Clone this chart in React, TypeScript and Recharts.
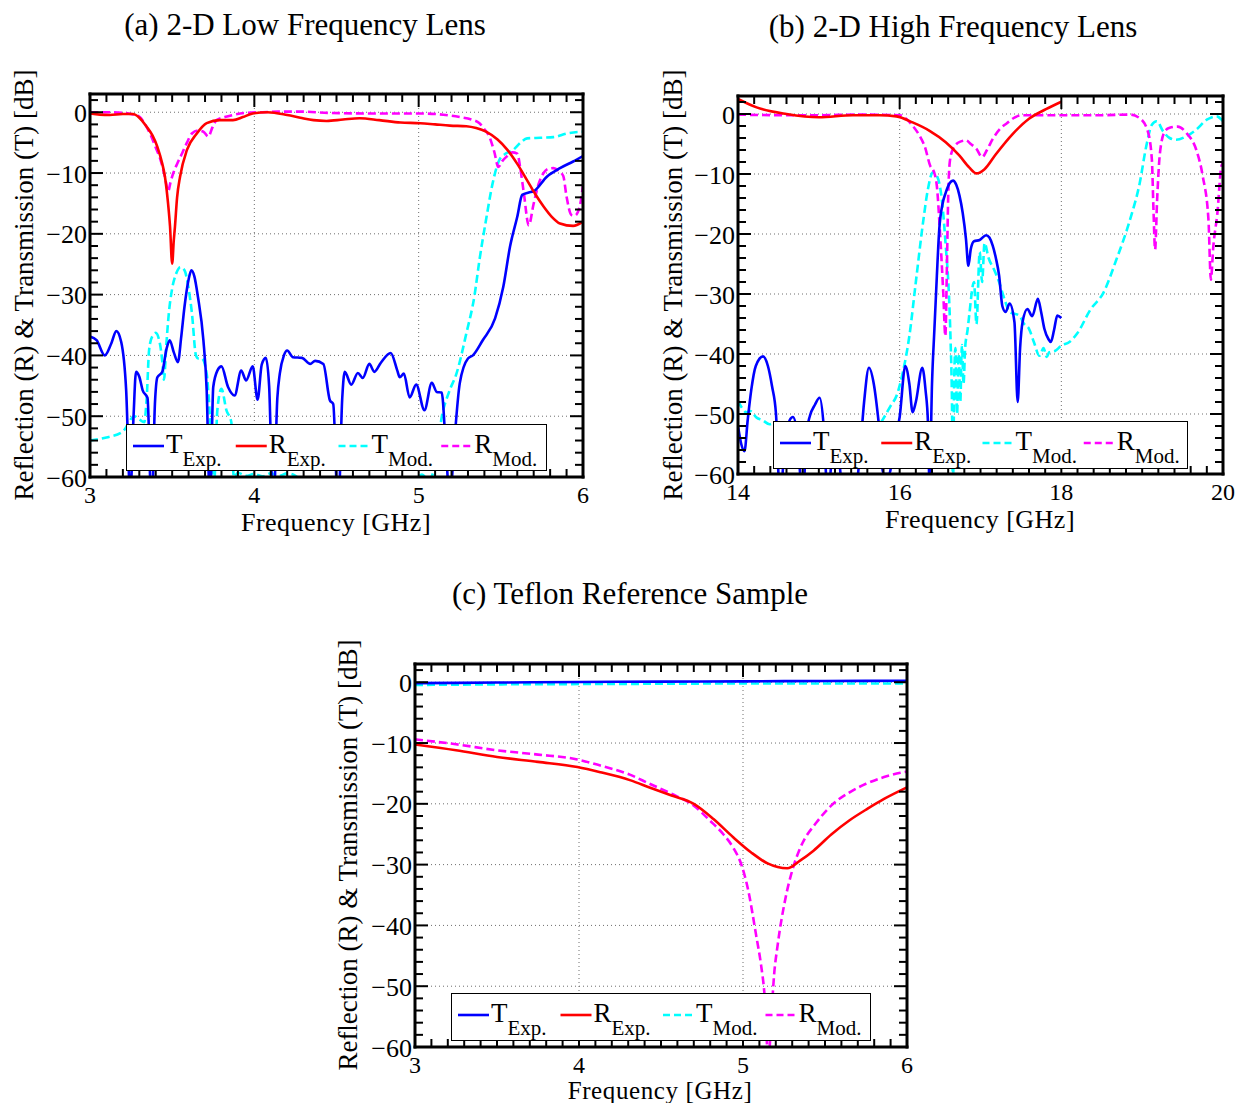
import React from 'react';
import { LineChart, Line, XAxis, YAxis, ReferenceLine } from 'recharts';

const SERIF = '"Liberation Serif", "Times New Roman", serif';

// ---------- Panel (a): 2-D low frequency lens (3–6 GHz) ----------
const aTexpF = [3.0, 3.04, 3.09, 3.13, 3.16, 3.19, 3.22, 3.245, 3.265, 3.28, 3.3, 3.32, 3.35, 3.375, 3.395, 3.41, 3.44, 3.465, 3.485, 3.51, 3.535, 3.555, 3.575, 3.6, 3.617, 3.635, 3.657, 3.69, 3.71, 3.73, 3.75, 3.775, 3.8, 3.84, 3.88, 3.92, 3.95, 3.99, 4.02, 4.045, 4.07, 4.09, 4.115, 4.14, 4.155, 4.18, 4.2, 4.235, 4.29, 4.34, 4.37, 4.42, 4.46, 4.48, 4.51, 4.535, 4.55, 4.59, 4.63, 4.66, 4.7, 4.73, 4.77, 4.83, 4.87, 4.885, 4.91, 4.945, 4.985, 5.035, 5.08, 5.11, 5.14, 5.165, 5.19, 5.215, 5.25, 5.3, 5.33, 5.39, 5.465, 5.515, 5.556, 5.6, 5.63, 5.67, 5.7, 5.78, 5.86, 5.94, 6.0];
const aTexpV = [-36.9, -37.5, -40, -38, -36, -37.8, -45.7, -63, -50, -42.7, -43.5, -45.7, -47, -66, -48, -43.6, -42.7, -39, -37.5, -39.5, -41.1, -37, -32, -27.5, -26, -27, -30.4, -37.5, -45.7, -65, -45.2, -42.5, -41.8, -45.2, -46.6, -42.5, -44.1, -41.8, -47.3, -41.5, -40.4, -45, -66, -47, -43, -40, -39.2, -40.3, -40.4, -41.4, -40.9, -41.4, -47.4, -48, -66, -47, -42.7, -44.8, -42.9, -43.7, -41.4, -42.7, -41.2, -39.6, -42.5, -43.6, -43, -46.9, -44.8, -49, -44.5, -46, -46.1, -55, -64, -55, -44.6, -40.5, -40, -37.5, -33.9, -28.7, -22.1, -17.2, -13.6, -13.2, -13, -10.6, -9.2, -8.1, -7.2];

const aRexpF = [3.0, 3.06, 3.12, 3.2, 3.26, 3.3, 3.345, 3.38, 3.41, 3.44, 3.456, 3.475, 3.487, 3.5, 3.51, 3.517, 3.53, 3.548, 3.59, 3.65, 3.71, 3.79, 3.87, 3.93, 3.99, 4.08, 4.2, 4.28, 4.36, 4.44, 4.54, 4.64, 4.76, 4.89, 5.01, 5.1, 5.19, 5.29, 5.35, 5.41, 5.48, 5.54, 5.6, 5.66, 5.71, 5.76, 5.81, 5.86, 5.94, 6.0];
const aRexpV = [-0.2, -0.4, -0.45, -0.3, -0.3, -0.9, -2.4, -3.8, -5.7, -8.5, -10.6, -15, -18.8, -24.9, -21, -18.8, -14, -10.6, -6.2, -3.5, -1.8, -1.3, -1.3, -0.8, -0.2, 0, -0.45, -0.9, -1.3, -1.43, -1.2, -1.0, -1.3, -1.7, -1.8, -2.0, -2.2, -2.3, -2.6, -3.2, -4.5, -6.2, -8.5, -11.2, -13.5, -15.5, -17.2, -18.3, -18.7, -18.0];

const aTmodF = [3.0, 3.1, 3.2, 3.27, 3.3, 3.33, 3.345, 3.36, 3.38, 3.4, 3.425, 3.44, 3.45, 3.465, 3.48, 3.5, 3.525, 3.55, 3.575, 3.6, 3.62, 3.645, 3.66, 3.68, 3.71, 3.73, 3.755, 3.775, 3.8, 3.83, 3.86, 3.875, 3.9, 3.95, 4.0, 4.05, 4.1, 4.15, 4.2, 4.25, 4.3, 4.4, 4.6, 4.8, 4.95, 5.02, 5.06, 5.1, 5.14, 5.185, 5.23, 5.29, 5.34, 5.37, 5.41, 5.45, 5.49, 5.53, 5.575, 5.62, 5.66, 5.74, 5.82, 5.9, 6.0];
const aTmodV = [-54, -53.5, -52.5, -50, -50.5, -51, -47, -39, -36.8, -36.3, -38, -41, -44, -38, -33, -29, -26.5, -25.5, -26, -29, -33, -40, -40.5, -40.5, -43, -50, -61, -49, -45.5, -49, -51, -60, -59.3, -59.8, -59.5, -59.9, -59.4, -59.8, -59.4, -59.8, -61, -64, -66, -65, -62, -59.6, -60.5, -58, -50.2, -46, -43, -36.4, -30.1, -24.3, -17.7, -11.7, -7.9, -6.8, -6.2, -5, -4.3, -4.2, -4.1, -3.5, -3.2];

const aRmodF = [3.0, 3.1, 3.2, 3.25, 3.3, 3.335, 3.365, 3.4, 3.43, 3.455, 3.476, 3.49, 3.507, 3.53, 3.56, 3.59, 3.62, 3.655, 3.69, 3.72, 3.745, 3.77, 3.82, 3.87, 3.95, 4.05, 4.15, 4.28, 4.45, 4.68, 4.85, 5.01, 5.15, 5.25, 5.32, 5.37, 5.4, 5.43, 5.46, 5.485, 5.51, 5.535, 5.57, 5.6, 5.62, 5.64, 5.67, 5.7, 5.73, 5.76, 5.79, 5.82, 5.85, 5.88, 5.9, 5.93, 5.95, 5.98, 6.0];
const aRmodV = [0, 0, -0.1, -0.3, -0.7, -2, -3.5, -5.8, -7.9, -10.5, -13, -11.5, -10, -8.5, -6.8, -5, -3.5, -3, -3.2, -4.0, -2.5, -1.3, -0.8, -0.45, -0.1, 0, 0.1, 0.1, -0.1, -0.2, -0.2, -0.2, -0.4, -0.8, -1.2, -1.8, -2.8, -4.0, -6.5, -9.0, -8.0, -7.3, -6.6, -6.8, -9.5, -13.3, -18.6, -15, -11.8, -10, -9.3, -9.2, -9.6, -10.5, -13.9, -16.9, -17, -15.5, -12];

// ---------- Panel (b): 2-D high frequency lens (14–20 GHz) ----------
const bTexpF = [14.0, 14.04, 14.08, 14.12, 14.165, 14.22, 14.31, 14.37, 14.42, 14.47, 14.52, 14.58, 14.64, 14.68, 14.73, 14.8, 14.85, 14.89, 14.95, 15.01, 15.06, 15.11, 15.17, 15.22, 15.3, 15.4, 15.5, 15.56, 15.62, 15.68, 15.74, 15.8, 15.87, 15.93, 16.0, 16.07, 16.12, 16.16, 16.2, 16.28, 16.32, 16.35, 16.37, 16.4, 16.43, 16.46, 16.49, 16.53, 16.57, 16.62, 16.66, 16.7, 16.74, 16.78, 16.82, 16.85, 16.88, 16.92, 16.99, 17.07, 17.11, 17.15, 17.19, 17.23, 17.27, 17.31, 17.36, 17.42, 17.46, 17.49, 17.52, 17.58, 17.64, 17.71, 17.75, 17.79, 17.84, 17.87, 17.91, 17.95, 18.0];
const bTexpV = [-52, -55, -56.2, -51, -45.9, -42, -40.4, -42, -45.3, -50, -64, -55, -51, -50.5, -53, -64, -53, -50.3, -48.5, -47.3, -52, -64, -56, -54, -64, -66, -58, -48, -42.3, -45, -51.4, -60, -60, -55, -50.5, -42, -45, -49.7, -48, -42.3, -46, -51.4, -62, -45, -35.8, -27, -19.2, -15, -13.1, -11.5, -11.1, -11.8, -13.6, -16.5, -20.8, -25.3, -22.5, -21.2, -21, -20.2, -20.6, -21.9, -24, -26.9, -32, -33, -31.6, -34.7, -48, -39, -34.7, -32.5, -33.7, -30.8, -33, -35.8, -37.5, -38, -36, -33.6, -34];

const bRexpF = [14.0, 14.23, 14.6, 15.0, 15.42, 15.75, 15.96, 16.16, 16.37, 16.57, 16.74, 16.86, 16.95, 17.05, 17.19, 17.4, 17.6, 17.81, 18.0];
const bRexpV = [2.5, 1.1, 0, -0.55, -0.2, -0.2, -0.4, -1.4, -2.8, -4.7, -6.95, -8.9, -9.9, -9.2, -6.7, -3.3, -0.8, 0.8, 2.05];

const bTmodF = [14.0, 14.05, 14.1, 14.15, 14.23, 14.3, 14.39, 14.45, 14.6, 14.8, 15.0, 15.2, 15.4, 15.6, 15.72, 15.81, 15.89, 15.96, 16.04, 16.12, 16.2, 16.29, 16.35, 16.41, 16.46, 16.53, 16.57, 16.61, 16.63, 16.645, 16.66, 16.675, 16.69, 16.71, 16.73, 16.75, 16.77, 16.79, 16.81, 16.84, 16.86, 16.92, 16.95, 16.99, 17.02, 17.05, 17.1, 17.17, 17.23, 17.3, 17.36, 17.48, 17.54, 17.6, 17.66, 17.73, 17.78, 17.82, 17.85, 17.92, 18.0, 18.1, 18.2, 18.36, 18.52, 18.68, 18.85, 18.97, 19.05, 19.12, 19.18, 19.26, 19.34, 19.42, 19.55, 19.67, 19.8, 19.92, 20.0];
const bTmodV = [-47.8, -49, -49.7, -49.5, -50.6, -51, -51.7, -51.5, -53, -54, -56, -57, -57, -55, -52.5, -50.5, -48.6, -47, -43, -37, -28, -18, -12.5, -9.7, -10.3, -15.3, -22, -30.3, -37.8, -46, -62, -44, -39, -50, -40, -48, -38.5, -45, -39, -36, -33.6, -28, -35, -23, -28, -21.5, -24, -26, -28, -31, -33, -33.6, -35, -35.8, -38, -40.3, -39, -40.5, -39.7, -39.5, -38.6, -38, -36.5, -32.6, -29.8, -24.3, -17.6, -11.5, -5.4, -1.8, -1.2, -2.9, -4, -4.3, -3.7, -2.6, -0.95, -0.4, -1.2];

const bRmodF = [14.0, 14.5, 15.0, 15.5, 16.0, 16.08, 16.16, 16.25, 16.31, 16.38, 16.42, 16.46, 16.5, 16.54, 16.565, 16.585, 16.6, 16.62, 16.66, 16.75, 16.82, 16.88, 16.95, 17.02, 17.08, 17.15, 17.24, 17.33, 17.42, 17.52, 18.0, 18.5, 18.85, 18.97, 19.07, 19.12, 19.14, 19.16, 19.185, 19.22, 19.28, 19.34, 19.44, 19.55, 19.67, 19.75, 19.82, 19.85, 19.88, 19.93, 19.98, 20.0];
const bRmodV = [-0.1, -0.2, -0.2, -0.1, -0.2, -0.8, -1.95, -3.7, -5.4, -8.7, -9.5, -12, -20, -30, -37, -25, -14, -8, -5.8, -4.6, -4.4, -5, -5.8, -7.2, -6, -4.2, -2.5, -1.5, -0.6, -0.2, -0.2, -0.2, -0.1, -0.7, -2.9, -7.6, -16, -22.6, -14.3, -6.5, -2.9, -2.3, -2.1, -3.2, -6, -10.4, -17.6, -27.6, -22.1, -16.6, -8.7, -8.2];

// ---------- Panel (c): Teflon reference sample (3–6 GHz) ----------
const cTexpF = [3.0, 3.5, 4.0, 4.5, 5.0, 5.5, 6.0];
const cTexpV = [-0.15, -0.05, 0.05, 0.1, 0.15, 0.2, 0.25];

const cRexpF = [3.0, 3.25, 3.5, 3.75, 3.99, 4.13, 4.31, 4.43, 4.56, 4.7, 4.82, 4.94, 5.05, 5.15, 5.27, 5.35, 5.43, 5.54, 5.65, 5.76, 5.86, 6.0];
const cRexpV = [-10.25, -11.2, -12.3, -13.1, -13.95, -14.8, -16.1, -17.3, -18.6, -20, -22.5, -25.5, -28, -29.8, -30.6, -29.3, -27.7, -25, -22.7, -20.8, -19.2, -17.3];

const cTmodF = [3.0, 3.5, 4.0, 4.5, 5.0, 5.5, 6.0];
const cTmodV = [-0.45, -0.35, -0.3, -0.25, -0.2, -0.2, -0.2];

const cRmodF = [3.0, 3.25, 3.5, 3.75, 3.99, 4.13, 4.31, 4.43, 4.56, 4.7, 4.8, 4.88, 4.94, 4.99, 5.03, 5.08, 5.11, 5.13, 5.155, 5.175, 5.19, 5.21, 5.26, 5.3, 5.35, 5.45, 5.55, 5.65, 5.75, 5.86, 5.96, 6.0];
const cRmodV = [-9.4, -10.2, -11.2, -11.9, -12.7, -13.7, -15.2, -16.7, -18.3, -20.3, -22.8, -25, -27.2, -30, -34, -41.6, -46.5, -51, -62, -54, -48, -43.5, -35.4, -31, -27.2, -23, -20, -18.1, -16.7, -15.6, -14.9, -14.7];

// ---------- Axis ticks ----------
const lowXMajor = [3, 4, 5, 6];
const highXMajor = [14, 16, 18, 20];
const yMajor = [0, -10, -20, -30, -40, -50, -60];
const Y_DOMAIN: [number, number] = [-60, 3];

const seq = (a: number, b: number, s: number) => {
  const n = Math.round((b - a) / s);
  return Array.from({ length: n + 1 }, (_, i) => +(a + i * s).toFixed(4));
};
const lowXTicks = seq(3, 6, 0.1);
const highXTicks = seq(14, 20, 0.2);
const yTicks = seq(-60, 2, 2);

const pts = (f: number[], v: number[]) => f.map((x, i) => ({ f: x, v: v[i] }));

const COLORS = { T: '#0000ff', R: '#ff0000', Tm: '#00ffff', Rm: '#ff00ff' };

type Series = { key: string; data: { f: number; v: number }[]; color: string; dashed: boolean };

const mkSeries = (te: any[], re: any[], tm: any[], rm: any[]): Series[] => [
  { key: 'Tm', data: tm, color: COLORS.Tm, dashed: true },
  { key: 'Rm', data: rm, color: COLORS.Rm, dashed: true },
  { key: 'Te', data: te, color: COLORS.T, dashed: false },
  { key: 'Re', data: re, color: COLORS.R, dashed: false },
];

const isMajor = (v: number, majors: number[]) => majors.some((m) => Math.abs(m - v) < 1e-6);
const fmtY = (v: number) => (v < 0 ? '\u2212' + Math.abs(v) : String(v));

type PanelProps = {
  left: number;
  top: number;
  width: number;
  height: number;
  margin: { top: number; right: number; bottom: number; left: number };
  xDomain: [number, number];
  xTicks: number[];
  xMajor: number[];
  series: Series[];
};

const FRAME = { stroke: '#000', strokeWidth: 3, strokeLinecap: 'square' as const };
const TICK_FONT = 25;

function Panel({ left, top, width, height, margin, xDomain, xTicks, xMajor, series }: PanelProps) {
  const bottomTick = (t: any) => {
    const maj = isMajor(t.payload.value, xMajor);
    return (
      <g>
        <line x1={t.x} x2={t.x} y1={t.y} y2={t.y - (maj ? 13 : 8)} stroke="#000" strokeWidth={2} />
        {maj && (
          <text x={t.x} y={t.y + 18} textAnchor="middle" dominantBaseline="central" fontSize={TICK_FONT - 1} fontFamily={SERIF} fill="#000">
            {t.payload.value}
          </text>
        )}
      </g>
    );
  };
  const topTick = (t: any) => {
    const maj = isMajor(t.payload.value, xMajor);
    return <line x1={t.x} x2={t.x} y1={t.y} y2={t.y + (maj ? 13 : 8)} stroke="#000" strokeWidth={2} />;
  };
  const leftTick = (t: any) => {
    const maj = isMajor(t.payload.value, yMajor);
    return (
      <g>
        <line x1={t.x} x2={t.x + (maj ? 13 : 8)} y1={t.y} y2={t.y} stroke="#000" strokeWidth={2} />
        {maj && (
          <text x={t.x - 3} y={t.y + 1} textAnchor="end" dominantBaseline="central" fontSize={TICK_FONT + 1} fontFamily={SERIF} fill="#000">
            {fmtY(t.payload.value)}
          </text>
        )}
      </g>
    );
  };
  const rightTick = (t: any) => {
    const maj = isMajor(t.payload.value, yMajor);
    return <line x1={t.x} x2={t.x - (maj ? 13 : 8)} y1={t.y} y2={t.y} stroke="#000" strokeWidth={2} />;
  };

  const gridX = xMajor.slice(1, -1);
  const gridY = yMajor.slice(0, -1);

  return (
    <div style={{ position: 'absolute', left, top, width, height }}>
      <LineChart width={width} height={height} margin={margin}>
        <XAxis
          xAxisId={0}
          dataKey="f"
          type="number"
          domain={xDomain}
          allowDataOverflow
          ticks={xTicks}
          interval={0}
          tickSize={0}
          tickMargin={0}
          height={40}
          axisLine={FRAME}
          tickLine={false}
          tick={bottomTick}
        />
        <XAxis
          xAxisId="top"
          orientation="top"
          dataKey="f"
          type="number"
          domain={xDomain}
          allowDataOverflow
          ticks={xTicks}
          interval={0}
          tickSize={0}
          tickMargin={0}
          height={1}
          axisLine={FRAME}
          tickLine={false}
          tick={topTick}
        />
        <YAxis
          yAxisId={0}
          type="number"
          domain={Y_DOMAIN}
          allowDataOverflow
          ticks={yTicks}
          interval={0}
          tickSize={0}
          tickMargin={0}
          width={50}
          axisLine={FRAME}
          tickLine={false}
          tick={leftTick}
        />
        <YAxis
          yAxisId="right"
          orientation="right"
          type="number"
          domain={Y_DOMAIN}
          allowDataOverflow
          ticks={yTicks}
          interval={0}
          tickSize={0}
          tickMargin={0}
          width={1}
          axisLine={FRAME}
          tickLine={false}
          tick={rightTick}
        />
        {gridX.map((g) => (
          <ReferenceLine key={'gx' + g} x={g} stroke="#6e6e6e" strokeWidth={1} strokeDasharray="1 3" />
        ))}
        {gridY.map((g) => (
          <ReferenceLine key={'gy' + g} y={g} stroke="#6e6e6e" strokeWidth={1} strokeDasharray="1 3" />
        ))}
        {/* carries the top and right frame axes; drawn without stroke */}
        <Line
          xAxisId="top"
          yAxisId="right"
          data={series[3].data}
          dataKey="v"
          stroke="none"
          dot={false}
          activeDot={false}
          legendType="none"
          isAnimationActive={false}
        />
        {series.map((s) => (
          <Line
            key={s.key}
            data={s.data}
            dataKey="v"
            type="monotone"
            stroke={s.color}
            strokeWidth={2.6}
            strokeDasharray={s.dashed ? '8 4' : undefined}
            dot={false}
            activeDot={false}
            isAnimationActive={false}
          />
        ))}
      </LineChart>
    </div>
  );
}

const legendItems = [
  { main: 'T', sub: 'Exp.', color: COLORS.T, dashed: false },
  { main: 'R', sub: 'Exp.', color: COLORS.R, dashed: false },
  { main: 'T', sub: 'Mod.', color: COLORS.Tm, dashed: true },
  { main: 'R', sub: 'Mod.', color: COLORS.Rm, dashed: true },
];

function LegendBox({ left, top, width, height }: { left: number; top: number; width: number; height: number }) {
  const step = (width - 10) / 4;
  return (
    <svg style={{ position: 'absolute', left, top }} width={width} height={height}>
      <rect x={0.5} y={0.5} width={width - 1} height={height - 1} fill="#fff" stroke="#000" strokeWidth={1} />
      {legendItems.map((it, i) => {
        const x0 = 7 + i * step;
        return (
          <g key={i}>
            <line x1={x0} x2={x0 + 31} y1={22} y2={22} stroke={it.color} strokeWidth={2.6} strokeDasharray={it.dashed ? '7 4' : undefined} />
            <text x={x0 + 33} y={29} fontSize={27} fontFamily={SERIF} fill="#000">
              {it.main}
              <tspan dy={13} fontSize={21}>
                {it.sub}
              </tspan>
            </text>
          </g>
        );
      })}
    </svg>
  );
}

function Caption({ x, y, text, size, rotate, spacing }: { x: number; y: number; text: string; size: number; rotate?: boolean; spacing?: number }) {
  return (
    <div
      style={{
        position: 'absolute',
        left: x,
        top: y,
        transform: `translate(-50%, -50%)${rotate ? ' rotate(-90deg)' : ''}`,
        whiteSpace: 'nowrap',
        fontSize: size,
        fontFamily: SERIF,
        letterSpacing: spacing ?? 0,
        lineHeight: 1,
        color: '#000',
      }}
    >
      {text}
    </div>
  );
}

export default function App() {
  const seriesA = mkSeries(pts(aTexpF, aTexpV), pts(aRexpF, aRexpV), pts(aTmodF, aTmodV), pts(aRmodF, aRmodV));
  const seriesB = mkSeries(pts(bTexpF, bTexpV), pts(bRexpF, bRexpV), pts(bTmodF, bTmodV), pts(bRmodF, bRmodV));
  const seriesC = mkSeries(pts(cTexpF, cTexpV), pts(cRexpF, cRexpV), pts(cTmodF, cTmodV), pts(cRmodF, cRmodV));

  const yLabel = 'Reflection (R) & Transmission (T) [dB]';

  return (
    <div style={{ position: 'absolute', left: 0, top: 0, width: 1244, height: 1103, background: '#fff', overflow: 'hidden' }}>
      <Panel
        left={0}
        top={0}
        width={600}
        height={540}
        margin={{ top: 93, right: 16, bottom: 23, left: 40 }}
        xDomain={[3, 6]}
        xTicks={lowXTicks}
        xMajor={lowXMajor}
        series={seriesA}
      />
      <Panel
        left={640}
        top={0}
        width={600}
        height={540}
        margin={{ top: 95, right: 16, bottom: 26, left: 48 }}
        xDomain={[14, 20]}
        xTicks={highXTicks}
        xMajor={highXMajor}
        series={seriesB}
      />
      <Panel
        left={320}
        top={620}
        width={600}
        height={480}
        margin={{ top: 43, right: 12, bottom: 13, left: 45 }}
        xDomain={[3, 6]}
        xTicks={lowXTicks}
        xMajor={lowXMajor}
        series={seriesC}
      />

      <LegendBox left={126} top={424} width={421} height={47} />
      <LegendBox left={773} top={421} width={415} height={48} />
      <LegendBox left={451} top={993} width={420} height={48} />

      <Caption x={305} y={24} text="(a) 2-D Low Frequency Lens" size={31} />
      <Caption x={953} y={26} text="(b) 2-D High Frequency Lens" size={31} />
      <Caption x={630} y={593} text="(c) Teflon Reference Sample" size={31} />

      <Caption x={24} y={285} text={yLabel} size={27} rotate />
      <Caption x={673} y={285} text={yLabel} size={27} rotate />
      <Caption x={348} y={855} text={yLabel} size={27} rotate />

      <Caption x={336} y={523} text="Frequency [GHz]" size={26} spacing={0.5} />
      <Caption x={980} y={520} text="Frequency [GHz]" size={26} spacing={0.5} />
      <Caption x={660} y={1089.5} text="Frequency [GHz]" size={25} spacing={0.6} />
    </div>
  );
}
